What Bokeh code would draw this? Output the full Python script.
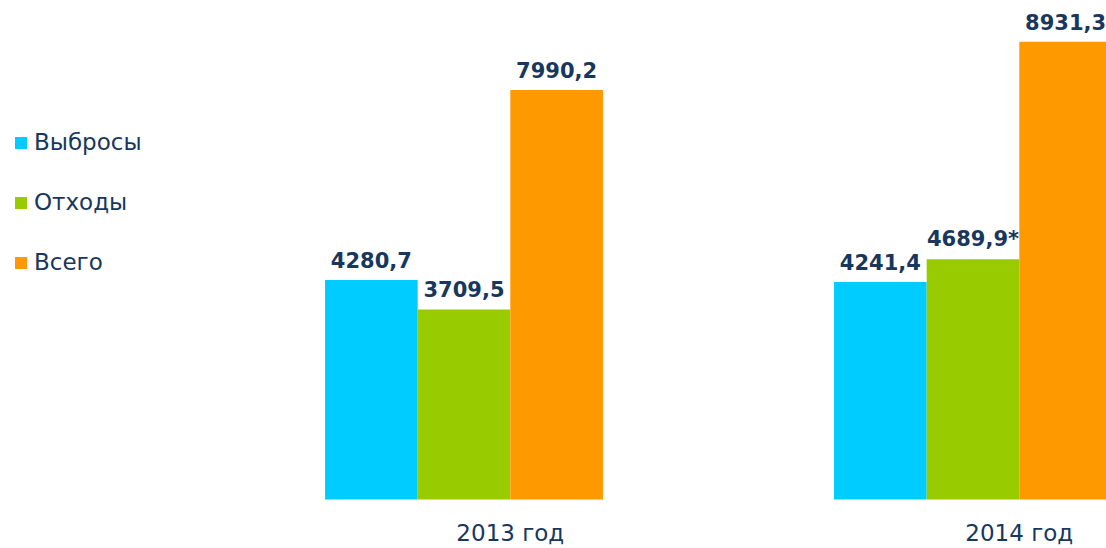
from bokeh.plotting import figure
from bokeh.models import ColumnDataSource, Range1d, Legend, LegendItem
from bokeh.core.properties import value
from bokeh.embed import file_html
from bokeh.resources import INLINE

years = ["2013 год", "2014 год"]
series = ["Выбросы", "Отходы", "Всего"]
emissions = [4280.7, 4241.4]
waste = [3709.5, 4689.9]
total = [7990.2, 8931.3]
emissions_notes = ["", ""]
waste_notes = ["", "*"]
total_notes = ["", ""]
colors = ["#00CCFF", "#99CC00", "#FF9900"]
text_color = "#17375E"

W, H = 1106, 548
p = figure(width=W, height=H, output_backend="svg", toolbar_location=None,
           x_range=Range1d(-0.9106, 1.2623), y_range=Range1d(-956, 9736),
           x_axis_type=None, y_axis_type=None, min_border=0,
           outline_line_color=None, background_fill_color="white",
           border_fill_color="white")
p.grid.visible = False

bw = 0.182
offsets = [-bw, 0, bw]
values = [emissions, waste, total]
notes = [emissions_notes, waste_notes, total_notes]
renderers = []
for vals, off, col, nt in zip(values, offsets, colors, notes):
    xs = [i + off for i in range(len(years))]
    labels = [f"{v:.1f}".replace(".", ",") + n for v, n in zip(vals, nt)]
    src = ColumnDataSource(dict(x=xs, top=vals, label=labels))
    r = p.vbar(x="x", top="top", bottom=0, width=bw, source=src,
               fill_color=col, line_color=None)
    renderers.append(r)
    p.text(x="x", y="top", text="label", source=src, text_align="center",
           text_baseline="alphabetic", y_offset=-20,
           text_font=value("DejaVu Sans"), text_font_style="bold",
           text_font_size="21px", text_color=text_color)

cat_src = ColumnDataSource(dict(x=[i + bw / 2 for i in range(len(years))],
                                y=[0] * len(years), text=years))
p.text(x="x", y="y", text="text", source=cat_src, text_align="center",
       text_baseline="middle", y_offset=33, text_font=value("DejaVu Sans"),
       text_font_size="23px", text_color=text_color)

legend = Legend(items=[LegendItem(label=s, renderers=[r]) for s, r in zip(series, renderers)],
                location=(13, 273), orientation="vertical",
                glyph_width=15, glyph_height=15, label_height=26,
                label_standoff=6, spacing=34, padding=0, margin=0,
                border_line_color=None, background_fill_alpha=0,
                label_text_font="DejaVu Sans", label_text_font_size="23px",
                label_text_color=text_color)
p.add_layout(legend)

open("out.html", "w").write(file_html(p, INLINE))
